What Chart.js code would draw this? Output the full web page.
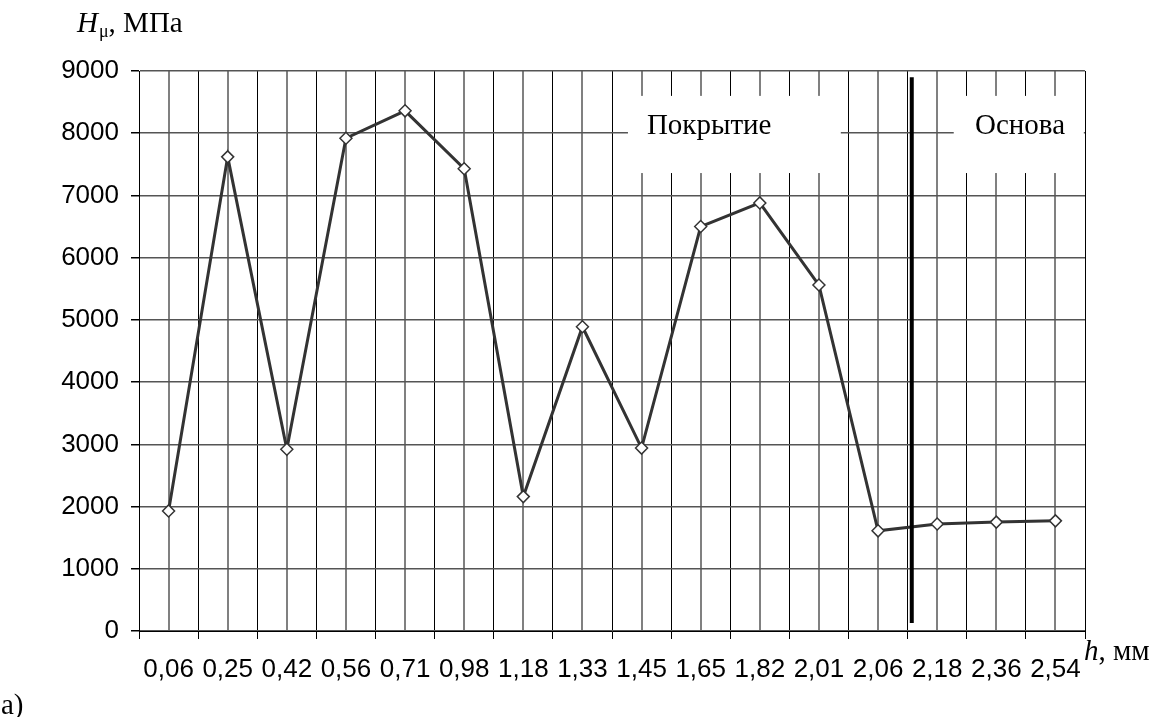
<!DOCTYPE html>
<html><head><meta charset="utf-8">
<script src="https://cdn.jsdelivr.net/npm/chart.js@4/dist/chart.umd.min.js"></script>
<style>html,body{margin:0;padding:0;background:#fff;}#wrap{position:relative;width:1157px;height:717px;}</style>
</head><body><div id="wrap"><canvas id="c" width="1157" height="717"></canvas></div>
<script>
const categories = ['0,06','0,25','0,42','0,56','0,71','0,98','1,18','1,33','1,45','1,65','1,82','2,01','2,06','2,18','2,36','2,54'];
const hardness = [1930, 7620, 2920, 7920, 8360, 7430, 2160, 4890, 2940, 6500, 6880, 5560, 1610, 1720, 1750, 1770];
const yMin = 0, yMax = 9000, yStep = 1000;
const regionLabels = ['Покрытие', 'Основа'];
const regionLabelIndex = [8.09, 13.64];
const regionLabelValue = 8000;
const regionBoxIndex = [[7.77, 11.37], [13.28, 15.48]];
const regionBoxValues = [8600, 7360];
const dividerIndex = 12.57;
const dividerValues = [8900, 130];
const yTitle = ['H', 'μ', ', МПа'];
const xTitle = ['h', ', мм'];
const panelLabel = 'а)';

const SERIF = '"Liberation Serif", "Times New Roman", serif';
const SANS = '"Liberation Sans", Arial, sans-serif';

const annot = {
  id: 'annot',
  beforeDatasetsDraw(chart) {
    const ctx = chart.ctx, xs = chart.scales.x, ys = chart.scales.y;
    const step = xs.getPixelForValue(1) - xs.getPixelForValue(0);
    const px = f => xs.getPixelForValue(0) + f * step;
    ctx.save();
    ctx.fillStyle = '#fff';
    const yt = ys.getPixelForValue(regionBoxValues[0]), yb = ys.getPixelForValue(regionBoxValues[1]);
    regionBoxIndex.forEach(([a, b]) => {
      ctx.fillRect(px(a), yt, px(b) - px(a), yb - yt);
    });
    ctx.restore();
  },
  afterDatasetsDraw(chart) {
    const ctx = chart.ctx, xs = chart.scales.x, ys = chart.scales.y;
    const step = xs.getPixelForValue(1) - xs.getPixelForValue(0);
    const px = f => xs.getPixelForValue(0) + f * step;
    ctx.save();
    ctx.strokeStyle = '#000';
    ctx.lineWidth = 4;
    ctx.beginPath();
    ctx.moveTo(px(dividerIndex), ys.getPixelForValue(dividerValues[0]));
    ctx.lineTo(px(dividerIndex), ys.getPixelForValue(dividerValues[1]));
    ctx.stroke();
    ctx.fillStyle = '#000';
    ctx.font = '29px ' + SERIF;
    ctx.textBaseline = 'alphabetic';
    ctx.textAlign = 'left';
    regionLabels.forEach((t, i) => {
      ctx.fillText(t, px(regionLabelIndex[i]), ys.getPixelForValue(regionLabelValue) + 1);
    });
    ctx.restore();
  },
  afterDraw(chart) {
    const ctx = chart.ctx, area = chart.chartArea;
    ctx.save();
    ctx.fillStyle = '#000';
    ctx.textBaseline = 'alphabetic';
    ctx.textAlign = 'left';
    let x = 77, y = 32;
    ctx.font = 'italic 29px ' + SERIF;
    ctx.fillText(yTitle[0], x, y);
    x += ctx.measureText(yTitle[0]).width + 1;
    ctx.font = '18px ' + SERIF;
    ctx.fillText(yTitle[1], x, y + 5);
    x += ctx.measureText(yTitle[1]).width;
    ctx.font = '29px ' + SERIF;
    ctx.fillText(yTitle[2], x, y);
    x = area.right - 1; y = 660;
    ctx.font = 'italic 29px ' + SERIF;
    ctx.fillText(xTitle[0], x, y);
    x += ctx.measureText(xTitle[0]).width;
    ctx.font = '29px ' + SERIF;
    ctx.fillText(xTitle[1], x, y);
    ctx.font = '29px ' + SERIF;
    ctx.fillText(panelLabel, 1, 714);
    ctx.restore();
  }
};

new Chart(document.getElementById('c'), {
  type: 'line',
  data: {
    labels: categories,
    datasets: [{
      data: hardness,
      borderColor: '#333',
      borderWidth: 3,
      pointStyle: 'rectRot',
      pointRadius: 6,
      pointBackgroundColor: '#fff',
      pointBorderColor: '#333',
      pointBorderWidth: 1.5,
      tension: 0,
      clip: false
    }]
  },
  options: {
    responsive: false,
    animation: false,
    devicePixelRatio: 1,
    layout: { padding: { left: 0, top: 71, right: 72, bottom: 0 } },
    plugins: { legend: { display: false }, tooltip: { enabled: false }, title: { display: false } },
    scales: {
      x: {
        type: 'category',
        offset: true,
        grid: { offset: true, color: '#000', lineWidth: 1, tickLength: 8, tickColor: '#000' },
        border: { display: true, color: '#000', width: 1 },
        ticks: { autoSkip: false, maxRotation: 0, minRotation: 0, padding: 15, color: '#000', font: { family: SANS, size: 26 } },
        afterFit: s => { s.height = 86; }
      },
      x2: {
        type: 'category',
        labels: categories,
        position: 'bottom',
        offset: true,
        grid: { offset: false, color: '#808080', lineWidth: 2, drawTicks: false },
        border: { display: false },
        ticks: { display: false },
        afterFit: s => { s.height = 0; }
      },
      y: {
        min: yMin, max: yMax,
        grid: { color: '#555', lineWidth: 1.5, tickLength: 8, tickColor: '#000' },
        border: { display: true, color: '#000', width: 1 },
        ticks: { stepSize: yStep, padding: 12, color: '#000', font: { family: SANS, size: 26 }, callback: v => String(v) },
        afterFit: s => { s.width = 139; }
      }
    }
  },
  plugins: [annot]
});
</script></body></html>
